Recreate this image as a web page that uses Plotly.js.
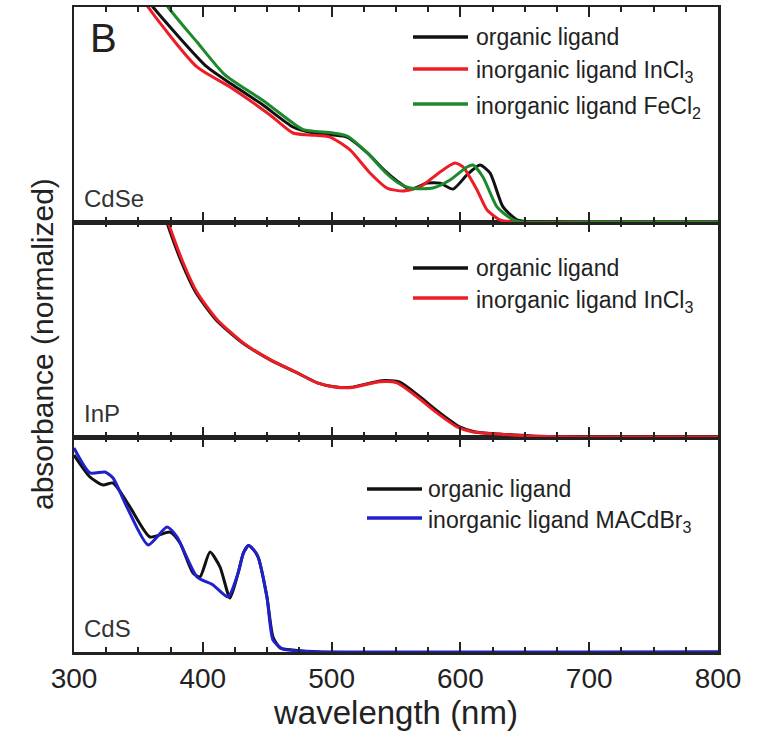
<!DOCTYPE html>
<html><head><meta charset="utf-8">
<script src="https://cdn.plot.ly/plotly-3.0.1.min.js"></script>
<style>html,body{margin:0;padding:0;background:#fff}</style>
</head><body><div id="chart" style="width:765px;height:731px"></div>
<script>
// ---------- CdSe panel (top) ----------
const cdseOrgX = [300, 330, 361.3, 403.3, 423.4, 446.7, 470.0, 485.6, 501.1, 512, 528, 541, 551, 561, 574.1, 584.2, 594.3, 605.1, 615.2, 623.0, 633.1, 643.9, 654, 700, 800];
const cdseOrgY = [1.8, 1.25, 1.0, 0.721, 0.637, 0.544, 0.442, 0.414, 0.405, 0.395, 0.32, 0.24, 0.19, 0.152, 0.181, 0.181, 0.153, 0.219, 0.265, 0.228, 0.07, 0.01, 0, 0, 0];
const cdseInClX = [300, 330, 357.5, 395.5, 421.1, 452.2, 470.0, 483.2, 498.8, 514.3, 529.8, 543.0, 555.4, 568.6, 584.2, 595.8, 602.0, 612.9, 620.7, 630.7, 642, 700, 800];
const cdseInClY = [1.75, 1.27, 1.0, 0.721, 0.628, 0.498, 0.414, 0.405, 0.395, 0.335, 0.228, 0.158, 0.144, 0.163, 0.233, 0.274, 0.256, 0.149, 0.056, 0.01, 0, 0, 0];
const cdseFeClX = [300, 340, 373.0, 395.5, 417.2, 446.7, 470.0, 478, 501.1, 512, 528, 541, 551, 561, 578.7, 591.9, 605.1, 609.8, 617.5, 628.4, 638.5, 646.3, 700, 800];
const cdseFeClY = [1.9, 1.3, 1.0, 0.837, 0.684, 0.565, 0.46, 0.43, 0.414, 0.4, 0.32, 0.235, 0.185, 0.158, 0.158, 0.195, 0.256, 0.265, 0.209, 0.07, 0.019, 0, 0, 0];

// ---------- InP panel (middle) ----------
const inpOrgX = [300, 340, 372, 383.5, 394.5, 410, 430.5, 452, 473, 489, 502, 515, 539, 553, 568.5, 584, 599.5, 611.5, 630, 655, 700, 800];
const inpOrgY = [2.6, 1.6, 1.0, 0.813, 0.673, 0.547, 0.439, 0.360, 0.299, 0.252, 0.234, 0.231, 0.262, 0.255, 0.187, 0.112, 0.047, 0.023, 0.014, 0.005, 0, 0];
const inpInClX = [300, 340, 373.0, 384.6, 395.5, 411.0, 431.2, 452.2, 473.1, 488.7, 501.1, 514.3, 537.6, 550.8, 566.3, 581.8, 597.4, 609.8, 628.4, 654, 700, 800];
const inpInClY = [2.6, 1.6, 1.0, 0.813, 0.673, 0.547, 0.439, 0.360, 0.299, 0.252, 0.234, 0.229, 0.257, 0.252, 0.187, 0.112, 0.047, 0.023, 0.014, 0.005, 0, 0];

// ---------- CdS panel (bottom) ----------
const cdsOrgX = [300, 312.4, 322.5, 330.3, 343.5, 359.0, 374.5, 382.3, 392.4, 397.8, 405.6, 413.4, 421.1, 427.4, 431.5, 435.5, 439.5, 442.9, 449.8, 454.5, 460.0, 470.0, 491, 800];
const cdsOrgY = [0.916, 0.814, 0.777, 0.786, 0.674, 0.535, 0.558, 0.507, 0.367, 0.349, 0.465, 0.395, 0.251, 0.367, 0.46, 0.495, 0.475, 0.442, 0.256, 0.07, 0.019, 0.009, 0, 0];
const cdsMAX = [300, 312.4, 324.1, 330.3, 341.1, 357.5, 372.2, 380.0, 395.5, 407.9, 419.6, 427.4, 431.5, 435.5, 439.5, 442.9, 449.8, 454.5, 462, 475.5, 491, 800];
const cdsMAY = [0.949, 0.833, 0.837, 0.809, 0.674, 0.498, 0.581, 0.535, 0.349, 0.312, 0.256, 0.367, 0.46, 0.495, 0.475, 0.442, 0.256, 0.056, 0.014, 0.005, 0, 0];

// ---------- labels ----------
const legendCdSe = ['organic ligand', 'inorganic ligand InCl<sub>3</sub>', 'inorganic ligand FeCl<sub>2</sub>'];
const legendInP = ['organic ligand', 'inorganic ligand InCl<sub>3</sub>'];
const legendCdS = ['organic ligand', 'inorganic ligand MACdBr<sub>3</sub>'];
const panelNames = ['CdSe', 'InP', 'CdS'];
const xTickVals = [300, 400, 500, 600, 700, 800];

const BLACK = '#111111', RED = '#ee1c24', GREEN = '#1c8a2c', BLUE = '#2020cc';
const FONT = 'Liberation Sans, Arial, Helvetica, sans-serif';

function tr(x, y, color, xa, ya) {
  return {x: x, y: y, type: 'scatter', mode: 'lines', xaxis: xa, yaxis: ya,
          line: {color: color, width: 3, shape: 'spline', smoothing: 0.6},
          showlegend: false, hoverinfo: 'skip'};
}
const data = [
  tr(cdseOrgX, cdseOrgY, BLACK, 'x3', 'y3'),
  tr(cdseInClX, cdseInClY, RED, 'x3', 'y3'),
  tr(cdseFeClX, cdseFeClY, GREEN, 'x3', 'y3'),
  tr(inpOrgX, inpOrgY, BLACK, 'x2', 'y2'),
  tr(inpInClX, inpInClY, RED, 'x2', 'y2'),
  tr(cdsOrgX, cdsOrgY, BLACK, 'x', 'y'),
  tr(cdsMAX, cdsMAY, BLUE, 'x', 'y')
];

// pixel helpers for layout placement (plot area 74..718 x 7..652)
const L = 74, R = 718, T = 7, B = 652;
const px = v => (v - L) / (R - L);
const py = v => (B - v) / (B - T);

function xax(extra) {
  return Object.assign({
    range: [300, 800], tickvals: xTickVals, ticks: 'inside', ticklen: 10, tickwidth: 2,
    tickcolor: '#222', showline: true, linewidth: 2.5, linecolor: '#222', mirror: 'allticks',
    minor: {dtick: 25, tick0: 300, ticks: 'inside', ticklen: 5, tickwidth: 2, tickcolor: '#222'},
    showgrid: false, zeroline: false, fixedrange: true,
    tickfont: {family: FONT, size: 28, color: '#222'}
  }, extra);
}
function yax(dom, anchor) {
  return {domain: dom, anchor: anchor, range: [0, 1], showline: true, linewidth: 2.5, linecolor: '#222',
          mirror: true, ticks: '', showticklabels: false, showgrid: false, zeroline: false, fixedrange: true};
}

const shapes = [];
const annotations = [];
function legend(labels, colors, x0, x1, xt, rows) {
  labels.forEach((lab, i) => {
    shapes.push({type: 'line', xref: 'paper', yref: 'paper', x0: px(x0), x1: px(x1), y0: py(rows[i]), y1: py(rows[i]),
                 line: {color: colors[i], width: 3.5}});
    annotations.push({xref: 'paper', yref: 'paper', x: px(xt), y: py(rows[i] + (lab.indexOf('<sub>') >= 0 ? 3 : 0)),
                      xanchor: 'left', yanchor: 'middle', text: lab, showarrow: false,
                      font: {family: FONT, size: 23, color: '#222'}});
  });
}
legend(legendCdSe, [BLACK, RED, GREEN], 413, 468, 474, [37, 69, 104]);
legend(legendInP, [BLACK, RED], 413, 468, 474, [268, 298]);
legend(legendCdS, [BLACK, BLUE], 367, 422, 426, [489, 518]);

const panelY = [198, 414, 628];
panelNames.forEach((n, i) => annotations.push({xref: 'paper', yref: 'paper', x: px(82), y: py(panelY[i]),
  xanchor: 'left', yanchor: 'middle', text: n, showarrow: false, font: {family: FONT, size: 24, color: '#333'}}));
annotations.push({xref: 'paper', yref: 'paper', x: px(88), y: py(38), xanchor: 'left', yanchor: 'middle',
  text: 'B', showarrow: false, font: {family: FONT, size: 40, color: '#222'}});
annotations.push({xref: 'paper', yref: 'paper', x: px(43), y: py(344), xanchor: 'center', yanchor: 'middle',
  text: 'absorbance (normalized)', textangle: -90, showarrow: false, font: {family: FONT, size: 30, color: '#222'}});

const layout = {
  width: 765, height: 731, margin: {l: L, r: 765 - R, t: T, b: 731 - B},
  paper_bgcolor: '#fff', plot_bgcolor: '#fff', showlegend: false,
  xaxis: xax({anchor: 'y', title: {text: 'wavelength (nm)', font: {family: FONT, size: 33, color: '#222'}, standoff: 4}}),
  xaxis2: xax({anchor: 'y2', matches: 'x', showticklabels: false}),
  xaxis3: xax({anchor: 'y3', matches: 'x', showticklabels: false}),
  yaxis: yax([0, 1/3], 'x'),
  yaxis2: yax([1/3, 2/3], 'x2'),
  yaxis3: yax([2/3, 1], 'x3'),
  shapes: shapes, annotations: annotations
};
Plotly.newPlot('chart', data, layout, {displayModeBar: false, staticPlot: true});
</script></body></html>
